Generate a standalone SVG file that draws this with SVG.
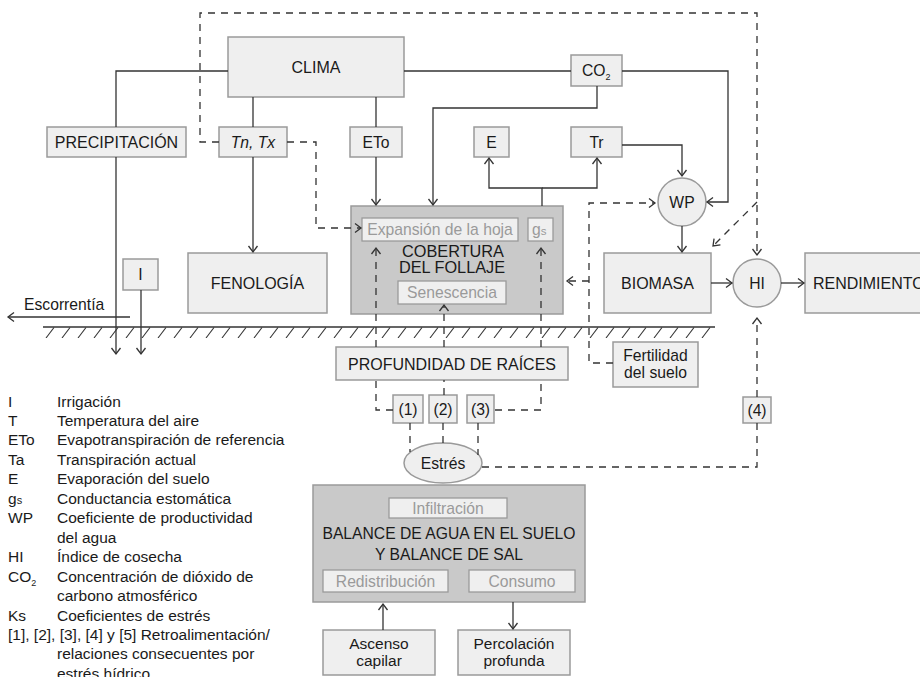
<svg xmlns="http://www.w3.org/2000/svg" width="920" height="677" viewBox="0 0 920 677">
<style>
text{font-family:"Liberation Sans",Arial,sans-serif;font-size:15.7px;fill:#1a1a1a}
.c{text-anchor:middle}
.g{fill:#9a9a9a}
.box{fill:#efefef;stroke:#9a9a9a;stroke-width:1.5}
.dark{fill:#c9c9c9;stroke:#9a9a9a;stroke-width:1.5}
.in{fill:#efefef;stroke:#9a9a9a;stroke-width:1.3}
.ln{fill:none;stroke:#333;stroke-width:1.3}
.ds{fill:none;stroke:#333;stroke-width:1.3;stroke-dasharray:7 6}
.ar{marker-end:url(#arr)}
.lg{font-size:15.5px}
</style>
<defs>
<marker id="arr" markerUnits="userSpaceOnUse" markerWidth="12" markerHeight="12" viewBox="0 0 12 12" refX="10" refY="6" orient="auto">
<path d="M4,1.5 L10,6 L4,10.5" fill="none" stroke="#333" stroke-width="1.3" stroke-dasharray="none"/>
</marker>
<pattern id="hatch" patternUnits="userSpaceOnUse" x="43" y="327" width="16" height="11">
<line x1="3" y1="11" x2="11" y2="0.5" stroke="#333" stroke-width="1.1"/>
</pattern>
</defs>

<g id="ground">
<rect x="43" y="327" width="672" height="11" fill="url(#hatch)"/>
<line x1="43" y1="327" x2="715" y2="327" stroke="#333" stroke-width="1.5"/>
</g>

<g id="clima"><rect class="box" x="228" y="37" width="176" height="60"/><text class="c" x="316" y="73" style="font-size:16px">CLIMA</text></g>
<g id="co2"><rect class="box" x="571" y="55" width="51" height="31"/><text x="582" y="76">CO<tspan font-size="9" dy="4">2</tspan></text></g>
<g id="precipitacion"><rect class="box" x="47" y="127" width="139" height="30"/><text class="c" x="116.5" y="148" style="font-size:16px">PRECIPITACIÓN</text></g>
<g id="tntx"><rect class="box" x="219" y="127" width="68" height="30"/><text class="c" x="253" y="148" font-style="italic">Tn, Tx</text></g>
<g id="eto"><rect class="box" x="350" y="127" width="52" height="30"/><text class="c" x="376" y="148">ETo</text></g>
<g id="e"><rect class="box" x="474" y="127" width="35" height="30"/><text class="c" x="491.5" y="148">E</text></g>
<g id="tr"><rect class="box" x="571" y="127" width="51" height="30"/><text class="c" x="596.5" y="148">Tr</text></g>
<g id="wp"><circle class="box" cx="682" cy="202" r="24"/><text class="c" x="682" y="208">WP</text></g>
<g id="fenologia"><rect class="box" x="188" y="253" width="139" height="60"/><text class="c" x="257.5" y="289" style="font-size:16px">FENOLOGÍA</text></g>
<g id="irrigacion"><rect class="box" x="123" y="259" width="35" height="31"/><text class="c" x="140.5" y="280">I</text></g>
<g id="cobertura">
<rect class="dark" x="351" y="206" width="212" height="108"/>
<rect class="in" x="362" y="218" width="156" height="23"/><text class="c g" x="440" y="235">Expansión de la hoja</text>
<rect class="in" x="528" y="218" width="25" height="23"/><text class="g" x="532" y="235">g<tspan font-size="11.5">s</tspan></text>
<text class="c" x="453" y="256.5" style="font-size:16.3px">COBERTURA</text>
<text class="c" x="452" y="273" style="font-size:16.3px">DEL FOLLAJE</text>
<rect class="in" x="398" y="281" width="108" height="23"/><text class="c g" x="452" y="298">Senescencia</text>
</g>
<g id="biomasa"><rect class="box" x="604" y="253" width="107" height="60"/><text class="c" x="657.5" y="289" style="font-size:16px">BIOMASA</text></g>
<g id="hi"><circle class="box" cx="757" cy="283" r="24"/><text class="c" x="757" y="289">HI</text></g>
<g id="rendimiento"><rect class="box" x="805" y="253" width="130" height="60"/><text x="813" y="289" style="font-size:16px">RENDIMIENTO</text></g>
<g id="escorrentia"><text x="24" y="310">Escorrentía</text></g>
<g id="profundidad"><rect class="box" x="336" y="347" width="232" height="33"/><text class="c" x="452" y="369.5" style="font-size:16px">PROFUNDIDAD DE RAÍCES</text></g>
<g id="fertilidad"><rect class="box" x="613" y="342" width="85" height="45"/><text class="c" x="655.5" y="361">Fertilidad</text><text class="c" x="655.5" y="378">del suelo</text></g>
<g id="f1"><rect class="box" x="393" y="395" width="30" height="28"/><text class="c" x="408" y="414.5">(1)</text></g>
<g id="f2"><rect class="box" x="429" y="395" width="28" height="28"/><text class="c" x="443" y="414.5">(2)</text></g>
<g id="f3"><rect class="box" x="467" y="395" width="27" height="28"/><text class="c" x="480.5" y="414.5">(3)</text></g>
<g id="f4"><rect class="box" x="743" y="397" width="28" height="26"/><text class="c" x="757" y="415.5">(4)</text></g>
<g id="estres"><ellipse class="box" cx="443" cy="463" rx="39" ry="20"/><text class="c" x="443" y="469">Estrés</text></g>
<g id="balance">
<rect class="dark" x="313" y="485" width="272" height="117"/>
<rect class="in" x="389" y="498" width="118" height="20"/><text class="c g" x="448" y="513.5">Infiltración</text>
<text class="c" x="449" y="539">BALANCE DE AGUA EN EL SUELO</text>
<text class="c" x="449" y="560">Y BALANCE DE SAL</text>
<rect class="in" x="323" y="570" width="125" height="22"/><text class="c g" x="385.5" y="587">Redistribución</text>
<rect class="in" x="469" y="570" width="106" height="22"/><text class="c g" x="522" y="587">Consumo</text>
</g>
<g id="ascenso"><rect class="box" x="323" y="630" width="112" height="45"/><text class="c" x="379" y="648.5" style="font-size:15.5px">Ascenso</text><text class="c" x="379" y="665.5" style="font-size:15.5px">capilar</text></g>
<g id="percolacion"><rect class="box" x="458" y="630" width="112" height="45"/><text class="c" x="514" y="648.5" style="font-size:15.5px">Percolación</text><text class="c" x="514" y="665.5" style="font-size:15.5px">profunda</text></g>

<g id="connectors">
<path class="ln" d="M228,71 H116 V127"/>
<path class="ln" d="M253,97 V127"/>
<path class="ln ar" d="M253,157 V252"/>
<path class="ln" d="M376,97 V127"/>
<path class="ln ar" d="M376,157 V205"/>
<path class="ln" d="M404,71 H571"/>
<path class="ln ar" d="M597,86 V108 H433 V205"/>
<path class="ln ar" d="M622,71 H728 V202 H707"/>
<path class="ln ar" d="M542,206 V188 H489 V158"/>
<path class="ln ar" d="M542,188 H597 V158"/>
<path class="ln ar" d="M622,145 H682 V176"/>
<path class="ln ar" d="M682,226 V252"/>
<path class="ln ar" d="M711,283 H732"/>
<path class="ln ar" d="M781,283 H804"/>
<path class="ln ar" d="M116,157 V354"/>
<path class="ln ar" d="M141,290 V354"/>
<path class="ln ar" d="M130,317 H8"/>
<path class="ln ar" d="M383,630 V604"/>
<path class="ln ar" d="M513,602 V629"/>

<path class="ds ar" d="M219,142 H200 V13 H757 V255"/>
<path class="ds ar" d="M757,202 L713,246"/>
<path class="ds ar" d="M287,142 H316 V228 H361"/>
<path class="ds ar" d="M613,363 H589 V203 H655"/>
<path class="ds ar" d="M589,281 H567"/>
<path class="ds" d="M482,467 H757 V423"/>
<path class="ds ar" d="M757,397 V318"/>
<path class="ds" d="M393,410 H376 V380"/>
<path class="ds ar" d="M376,347 V248"/>
<path class="ds" d="M444,395 V380"/>
<path class="ds ar" d="M444,347 V305"/>
<path class="ds" d="M495,410 H541 V380"/>
<path class="ds ar" d="M541,347 V248"/>
<path class="ds" d="M410,423 V452"/>
<path class="ds" d="M443,423 V443"/>
<path class="ds" d="M478,423 V455"/>
</g>

<g id="legend" class="lg">
<text class="lg" x="8" y="406.5">I</text><text class="lg" x="57" y="406.5">Irrigación</text>
<text class="lg" x="8" y="426">T</text><text class="lg" x="57" y="426">Temperatura del aire</text>
<text class="lg" x="8" y="445.4">ETo</text><text class="lg" x="57" y="445.4">Evapotranspiración de referencia</text>
<text class="lg" x="8" y="464.9">Ta</text><text class="lg" x="57" y="464.9">Transpiración actual</text>
<text class="lg" x="8" y="484.3">E</text><text class="lg" x="57" y="484.3">Evaporación del suelo</text>
<text class="lg" x="8" y="503.8">g<tspan font-size="11">s</tspan></text><text class="lg" x="57" y="503.8">Conductancia estomática</text>
<text class="lg" x="8" y="523.2">WP</text><text class="lg" x="57" y="523.2">Coeficiente de productividad</text>
<text class="lg" x="57" y="542.7">del agua</text>
<text class="lg" x="8" y="562.1">HI</text><text class="lg" x="57" y="562.1">Índice de cosecha</text>
<text class="lg" x="8" y="581.6">CO<tspan font-size="9" dy="4">2</tspan></text><text class="lg" x="57" y="581.6">Concentración de dióxido de</text>
<text class="lg" x="57" y="601">carbono atmosférico</text>
<text class="lg" x="8" y="620.5">Ks</text><text class="lg" x="57" y="620.5">Coeficientes de estrés</text>
<text class="lg" x="8" y="639.9">[1], [2], [3], [4] y [5] Retroalimentación/</text>
<text class="lg" x="57" y="659.4">relaciones consecuentes por</text>
<text class="lg" x="57" y="678.8">estrés hídrico</text>
</g>
</svg>
